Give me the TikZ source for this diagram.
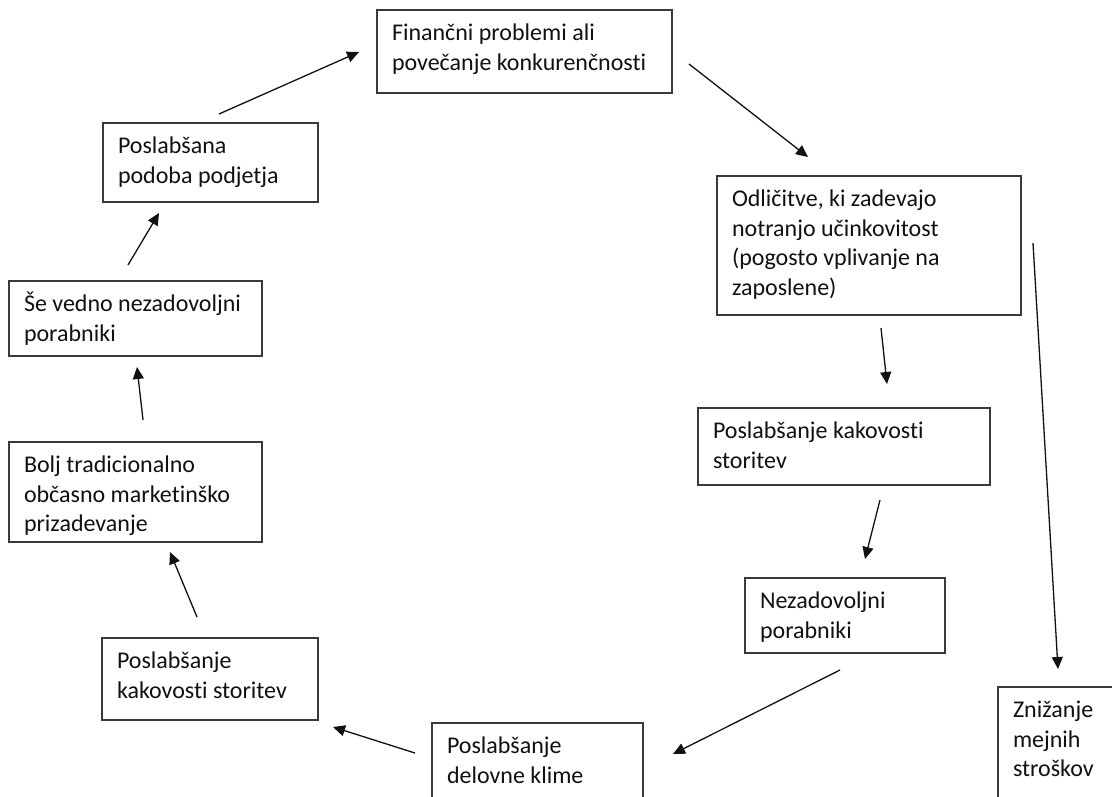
\documentclass[tikz,border=0pt]{standalone}
\usepackage{fontspec}
\setmainfont{Carlito}[Ligatures={NoCommon}]
\usetikzlibrary{arrows.meta}

\definecolor{frame}{HTML}{3A3A3A}
\definecolor{ink}{HTML}{111111}

% Box text: top-aligned paragraph of fixed width and height
\newcommand\boxbody[3]{\parbox[t][#2][t]{#1}{\raggedright\rule{0pt}{30.5pt}#3}}

\tikzset{
  boxline/.style={draw=frame, line width=1.4pt},
  stepbox/.style={boxline, inner xsep=15pt, inner ysep=0pt,
    outer sep=0pt, anchor=north west, text=ink,
    font=\fontsize{24}{29.5}\selectfont},
  flow/.style={draw=ink, line width=1.3pt, -{Triangle[length=12pt,width=11pt]}}
}

\begin{document}
\begin{tikzpicture}[x=1pt, y=-1pt]
\useasboundingbox (0,0) rectangle (1112,796);
\fill[white] (0,0) rectangle (1112,796);
\begin{scope}
\clip (0,0) rectangle (1112,796);

% boxes
\node[stepbox] (fin) at (377,10)  {\boxbody{265pt}{83pt}{\mbox{Finančni problemi ali}\\\mbox{povečanje konkurenčnosti}}};
\node[stepbox] (odl) at (717,176) {\boxbody{274pt}{139pt}{\mbox{Odličitve, ki zadevajo}\\\mbox{notranjo učinkovitost}\\\mbox{(pogosto vplivanje na}\\\mbox{zaposlene)}}};
\node[stepbox] (psr) at (698,408) {\boxbody{262pt}{77pt}{\mbox{Poslabšanje kakovosti}\\\mbox{storitev}}};
\node[stepbox] (nez) at (745,578) {\boxbody{170pt}{75pt}{\mbox{Nezadovoljni}\\\mbox{porabniki}}};
\node[stepbox, draw=none] (zni) at (998,687) {\boxbody{170pt}{150pt}{\mbox{Znižanje}\\\mbox{mejnih}\\\mbox{stroškov}}};
\draw[boxline] (zni.south west) -- (zni.north west) -- (1112,687);
\node[stepbox] (del) at (432,723) {\boxbody{181pt}{150pt}{\mbox{Poslabšanje}\\\mbox{delovne klime}}};
\node[stepbox] (psl) at (102,638) {\boxbody{186pt}{82pt}{\mbox{Poslabšanje}\\\mbox{kakovosti storitev}}};
\node[stepbox] (bol) at (9,442)   {\boxbody{223pt}{100pt}{\mbox{Bolj tradicionalno}\\\mbox{občasno marketinško}\\\mbox{prizadevanje}}};
\node[stepbox] (sev) at (9,281)   {\boxbody{223pt}{75pt}{\mbox{Še vedno nezadovoljni}\\\mbox{porabniki}}};
\node[stepbox] (pod) at (103,123) {\boxbody{185pt}{79pt}{\mbox{Poslabšana}\\\mbox{podoba podjetja}}};

% free-floating connector ends
\coordinate (a1s) at (219,114);  \coordinate (a1e) at (359,52);
\coordinate (a2s) at (689,64);   \coordinate (a2e) at (808,157);
\coordinate (a3s) at (881,328);  \coordinate (a3e) at (887,384);
\coordinate (a4s) at (880,500);  \coordinate (a4e) at (865,559);
\coordinate (a5s) at (840,670);  \coordinate (a5e) at (673,754);
\coordinate (a6s) at (1033,243); \coordinate (a6e) at (1058,669);
\coordinate (a7s) at (415,753);  \coordinate (a7e) at (333,727);
\coordinate (a8s) at (197,617);  \coordinate (a8e) at (170,552);
\coordinate (a9s) at (143,420);  \coordinate (a9e) at (137,367);
\coordinate (a10s) at (128,265); \coordinate (a10e) at (159,213);

% connectors
\draw[flow] (a1s) -- (a1e);
\draw[flow] (a2s) -- (a2e);
\draw[flow] (a3s) -- (a3e);
\draw[flow] (a4s) -- (a4e);
\draw[flow] (a5s) -- (a5e);
\draw[flow] (a6s) -- (a6e);
\draw[flow] (a7s) -- (a7e);
\draw[flow] (a8s) -- (a8e);
\draw[flow] (a9s) -- (a9e);
\draw[flow] (a10s) -- (a10e);
\end{scope}
\end{tikzpicture}
\end{document}
